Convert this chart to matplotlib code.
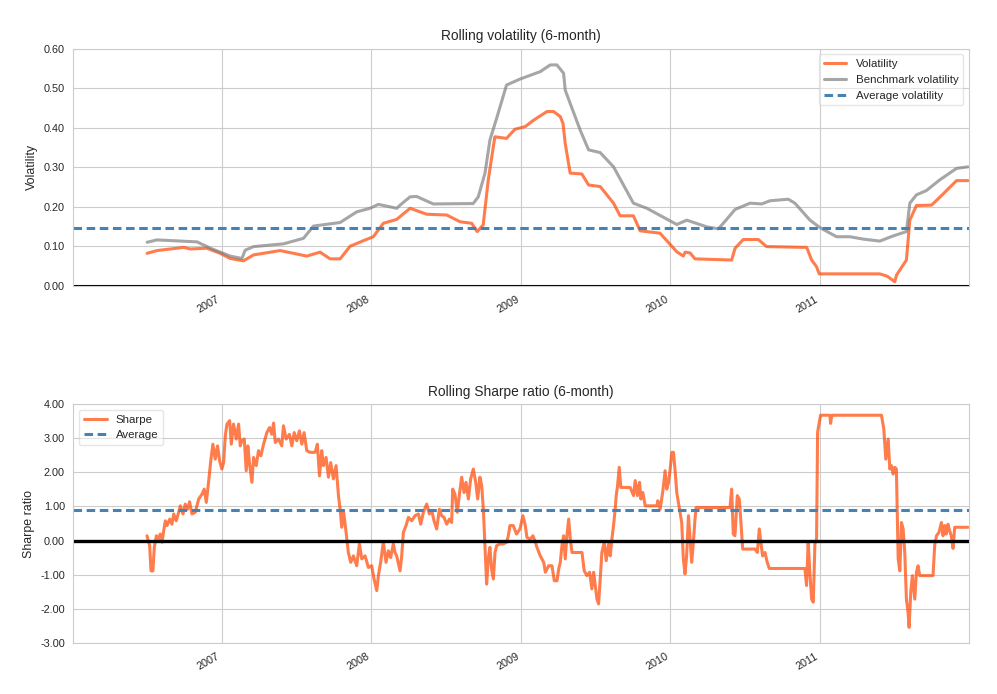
import matplotlib
matplotlib.use("Agg")
import matplotlib.pyplot as plt
import matplotlib.dates as mdates
from matplotlib.ticker import FormatStrFormatter, MultipleLocator
import seaborn as sns
import pandas as pd

vol_years = [2006.502, 2006.568, 2006.746, 2006.791, 2006.902, 2006.991, 2007.058, 2007.147,
             2007.214, 2007.392, 2007.570, 2007.659, 2007.726, 2007.793, 2007.860, 2007.949,
             2008.015, 2008.082, 2008.172, 2008.261, 2008.372, 2008.506, 2008.595, 2008.673,
             2008.710, 2008.750, 2008.784, 2008.828, 2008.906, 2008.962, 2009.029, 2009.084,
             2009.174, 2009.218, 2009.263, 2009.281, 2009.296, 2009.329, 2009.407, 2009.452,
             2009.530, 2009.619, 2009.663, 2009.752, 2009.797, 2009.930, 2010.042, 2010.086,
             2010.098, 2010.131, 2010.164, 2010.409, 2010.432, 2010.487, 2010.587, 2010.643,
             2010.911, 2010.944, 2010.977, 2010.995, 2011.400, 2011.450, 2011.500, 2011.512,
             2011.578, 2011.601, 2011.645, 2011.746, 2011.823, 2011.913, 2011.990]
vol_values = [0.082, 0.089, 0.097, 0.093, 0.095, 0.082, 0.069, 0.063,
              0.078, 0.089, 0.075, 0.085, 0.068, 0.068, 0.100, 0.114,
              0.124, 0.158, 0.168, 0.196, 0.181, 0.179, 0.162, 0.158,
              0.137, 0.154, 0.268, 0.377, 0.373, 0.396, 0.403, 0.419,
              0.441, 0.441, 0.428, 0.411, 0.360, 0.285, 0.283, 0.255,
              0.251, 0.209, 0.177, 0.177, 0.139, 0.133, 0.086, 0.075,
              0.085, 0.083, 0.068, 0.065, 0.095, 0.117, 0.117, 0.099,
              0.097, 0.065, 0.048, 0.030, 0.030, 0.024, 0.010, 0.027,
              0.065, 0.166, 0.203, 0.204, 0.232, 0.266, 0.266]

bench_years = [2006.502, 2006.568, 2006.836, 2006.925, 2007.058, 2007.136, 2007.158, 2007.214,
               2007.414, 2007.548, 2007.615, 2007.793, 2007.904, 2007.993, 2008.049, 2008.172,
               2008.194, 2008.261, 2008.305, 2008.416, 2008.683, 2008.717, 2008.762, 2008.795,
               2008.840, 2008.906, 2008.995, 2009.129, 2009.196, 2009.240, 2009.285, 2009.296,
               2009.396, 2009.452, 2009.530, 2009.619, 2009.752, 2009.842, 2010.042, 2010.109,
               2010.243, 2010.320, 2010.353, 2010.432, 2010.532, 2010.610, 2010.665, 2010.788,
               2010.832, 2010.933, 2011.000, 2011.111, 2011.200, 2011.289, 2011.400, 2011.489,
               2011.578, 2011.601, 2011.645, 2011.712, 2011.801, 2011.913, 2011.990]
bench_values = [0.110, 0.116, 0.111, 0.095, 0.075, 0.069, 0.090, 0.099,
                0.106, 0.120, 0.151, 0.160, 0.187, 0.196, 0.206, 0.196,
                0.204, 0.225, 0.226, 0.207, 0.208, 0.225, 0.285, 0.369,
                0.424, 0.508, 0.523, 0.542, 0.559, 0.559, 0.538, 0.495,
                0.394, 0.344, 0.337, 0.301, 0.209, 0.196, 0.155, 0.166,
                0.149, 0.144, 0.158, 0.193, 0.209, 0.207, 0.215, 0.219,
                0.209, 0.166, 0.147, 0.124, 0.124, 0.118, 0.113, 0.126,
                0.137, 0.209, 0.230, 0.241, 0.268, 0.297, 0.301]

avg_vol = 0.145

sharpe_years = [2006.501, 2006.519, 2006.528, 2006.541, 2006.550, 2006.564, 2006.579, 2006.590,
                2006.602, 2006.613, 2006.624, 2006.635, 2006.653, 2006.668, 2006.680, 2006.697,
                2006.713, 2006.724, 2006.742, 2006.757, 2006.773, 2006.786, 2006.802, 2006.824,
                2006.847, 2006.869, 2006.884, 2006.898, 2006.913, 2006.929, 2006.942, 2006.958,
                2006.973, 2006.987, 2007.002, 2007.014, 2007.025, 2007.036, 2007.054, 2007.065,
                2007.080, 2007.098, 2007.114, 2007.125, 2007.136, 2007.152, 2007.165, 2007.176,
                2007.187, 2007.203, 2007.214, 2007.232, 2007.247, 2007.263, 2007.281, 2007.303,
                2007.321, 2007.336, 2007.348, 2007.359, 2007.381, 2007.403, 2007.414, 2007.432,
                2007.454, 2007.470, 2007.486, 2007.503, 2007.521, 2007.537, 2007.552, 2007.570,
                2007.592, 2007.626, 2007.641, 2007.655, 2007.670, 2007.681, 2007.699, 2007.715,
                2007.730, 2007.748, 2007.766, 2007.782, 2007.793, 2007.804, 2007.815, 2007.833,
                2007.848, 2007.864, 2007.882, 2007.904, 2007.922, 2007.938, 2007.960, 2007.982,
                2008.004, 2008.020, 2008.038, 2008.049, 2008.064, 2008.082, 2008.100, 2008.116,
                2008.131, 2008.149, 2008.160, 2008.171, 2008.194, 2008.205, 2008.216, 2008.234,
                2008.250, 2008.272, 2008.294, 2008.317, 2008.332, 2008.350, 2008.372, 2008.390,
                2008.406, 2008.421, 2008.439, 2008.457, 2008.472, 2008.488, 2008.506, 2008.524,
                2008.539, 2008.546, 2008.561, 2008.577, 2008.590, 2008.606, 2008.622, 2008.635,
                2008.651, 2008.666, 2008.684, 2008.700, 2008.713, 2008.728, 2008.740, 2008.751,
                2008.762, 2008.773, 2008.784, 2008.795, 2008.806, 2008.818, 2008.829, 2008.840,
                2008.862, 2008.884, 2008.907, 2008.918, 2008.929, 2008.951, 2008.973, 2008.996,
                2009.013, 2009.029, 2009.040, 2009.062, 2009.080, 2009.096, 2009.107, 2009.129,
                2009.152, 2009.163, 2009.185, 2009.207, 2009.223, 2009.241, 2009.252, 2009.263,
                2009.274, 2009.285, 2009.296, 2009.307, 2009.319, 2009.330, 2009.341, 2009.408,
                2009.423, 2009.441, 2009.459, 2009.474, 2009.486, 2009.497, 2009.508, 2009.519,
                2009.530, 2009.541, 2009.557, 2009.570, 2009.586, 2009.597, 2009.608, 2009.619,
                2009.630, 2009.637, 2009.646, 2009.657, 2009.668, 2009.730, 2009.753, 2009.764,
                2009.779, 2009.793, 2009.802, 2009.815, 2009.831, 2009.909, 2009.915, 2009.931,
                2009.949, 2009.964, 2009.975, 2009.987, 2009.998, 2010.009, 2010.020, 2010.031,
                2010.042, 2010.060, 2010.075, 2010.086, 2010.097, 2010.108, 2010.120, 2010.131,
                2010.142, 2010.153, 2010.164, 2010.171, 2010.398, 2010.409, 2010.420, 2010.431,
                2010.447, 2010.460, 2010.469, 2010.483, 2010.565, 2010.581, 2010.594, 2010.603,
                2010.616, 2010.632, 2010.647, 2010.661, 2010.899, 2010.910, 2010.921, 2010.932,
                2010.944, 2010.955, 2010.966, 2010.977, 2010.984, 2010.995, 2011.004, 2011.066,
                2011.071, 2011.079, 2011.411, 2011.427, 2011.440, 2011.456, 2011.467, 2011.478,
                2011.489, 2011.500, 2011.511, 2011.523, 2011.534, 2011.545, 2011.556, 2011.567,
                2011.578, 2011.589, 2011.596, 2011.607, 2011.618, 2011.634, 2011.645, 2011.656,
                2011.667, 2011.756, 2011.767, 2011.779, 2011.796, 2011.812, 2011.823, 2011.834,
                2011.845, 2011.856, 2011.867, 2011.878, 2011.890, 2011.901, 2011.990]
sharpe_values = [0.14, -0.15, -0.89, -0.89, -0.20, 0.14, 0.04, 0.19,
                 -0.05, 0.29, 0.58, 0.44, 0.63, 0.48, 0.78, 0.58,
                 0.83, 1.02, 0.78, 1.07, 0.92, 1.14, 0.78, 0.83,
                 1.22, 1.36, 1.51, 1.12, 1.71, 2.39, 2.83, 2.39,
                 2.78, 2.34, 2.10, 2.29, 3.08, 3.42, 3.52, 2.83,
                 3.42, 2.98, 3.42, 2.78, 2.93, 2.98, 2.05, 2.78,
                 2.25, 1.71, 2.44, 2.20, 2.64, 2.49, 2.83, 3.17,
                 3.32, 3.12, 3.45, 2.88, 2.98, 2.78, 3.37, 2.98,
                 3.12, 2.78, 3.17, 2.93, 3.22, 2.83, 3.17, 2.64,
                 2.59, 2.59, 2.83, 1.90, 2.64, 2.20, 2.44, 1.86,
                 2.29, 1.81, 2.20, 1.32, 0.92, 0.39, 0.88, 0.24,
                 -0.35, -0.64, -0.45, -0.74, -0.10, -0.54, -0.45, -0.79,
                 -0.74, -1.13, -1.47, -1.03, -0.64, -0.05, -0.64, -0.30,
                 -0.50, -0.10, -0.35, -0.45, -0.89, -0.45, 0.24, 0.44,
                 0.68, 0.58, 0.73, 0.78, 0.48, 0.83, 1.07, 0.78,
                 0.88, 0.58, 0.34, 0.92, 0.73, 0.68, 0.48, 0.63,
                 0.53, 1.51, 1.36, 0.83, 1.32, 1.86, 1.41, 1.71,
                 1.22, 1.81, 2.10, 1.71, 1.22, 1.86, 1.61, 0.92,
                 -0.15, -1.28, -0.54, -0.20, -0.84, -1.13, -0.35, -0.15,
                 -0.10, -0.10, -0.05, 0.14, 0.44, 0.44, 0.19, 0.34,
                 0.73, 0.44, 0.09, 0.04, 0.14, -0.05, -0.20, -0.45,
                 -0.64, -0.93, -0.74, -0.74, -1.18, -1.18, -0.84, -0.64,
                 -0.15, 0.14, -0.54, 0.14, 0.63, 0.04, -0.35, -0.35,
                 -0.89, -1.03, -0.93, -1.42, -0.93, -1.32, -1.72, -1.86,
                 -1.13, -0.35, -0.05, -0.59, -0.10, -0.45, 0.04, 0.44,
                 0.92, 1.32, 1.61, 2.15, 1.56, 1.56, 1.32, 1.76,
                 1.32, 1.71, 1.22, 1.41, 1.02, 1.02, 1.17, 0.92,
                 1.46, 2.05, 1.51, 1.71, 2.10, 2.59, 2.59, 2.05,
                 1.41, 0.92, 0.53, -0.54, -0.98, -0.45, 0.73, 0.04,
                 -0.64, -0.05, 0.63, 0.97, 0.97, 1.51, 0.19, 0.14,
                 1.32, 1.22, 0.68, -0.25, -0.25, -0.35, 0.34, 0.00,
                 -0.45, -0.35, -0.64, -0.82, -0.82, -1.32, -0.05, -0.93,
                 -1.72, -1.81, -0.10, 0.04, 3.18, 3.47, 3.68, 3.68,
                 3.44, 3.68, 3.68, 3.27, 2.39, 2.98, 2.10, 2.20,
                 1.95, 2.15, 2.10, -0.54, -0.89, 0.53, 0.34, -0.35,
                 -1.72, -2.11, -2.55, -1.52, -1.03, -1.72, -0.93, -0.74,
                 -1.03, -1.03, -0.15, 0.14, 0.24, 0.53, 0.14, 0.44,
                 0.19, 0.48, 0.29, 0.14, -0.23, 0.39, 0.39]

avg_sharpe = 0.89

x_start = "2006-01-04"
x_end = "2011-12-30"


def to_dates(years):
    out = []
    for y in years:
        yr = int(y)
        out.append(pd.Timestamp(yr, 1, 1) + pd.Timedelta(days=(y - yr) * 365.0))
    return out


sns.set_style("whitegrid")
plt.rcParams['font.family'] = ['Liberation Sans', 'DejaVu Sans']
plt.rcParams['text.color'] = '#262626'
plt.rcParams['axes.labelcolor'] = '#262626'
plt.rcParams['xtick.color'] = '#262626'
plt.rcParams['ytick.color'] = '#262626'

fig = plt.figure(figsize=(9.97, 6.94), dpi=100)
ax1 = fig.add_axes([0.0735, 0.5883, 0.8981, 0.3415])
ax2 = fig.add_axes([0.0735, 0.0739, 0.8981, 0.3435])

lw = 2.2
dash = (0, (2.8, 1.5))

# volatility
ax1.plot(to_dates(vol_years), vol_values, color='orangered', alpha=.7, lw=lw, label='Volatility')
ax1.plot(to_dates(bench_years), bench_values, color='grey', alpha=.7, lw=lw, label='Benchmark volatility')
ax1.axhline(avg_vol, color='steelblue', linestyle=dash, lw=lw, label='Average volatility')
ax1.axhline(0.0, color='black', linestyle='-', lw=1.5)
ax1.set_ylim(0, 0.6)
ax1.set_ylabel('Volatility', fontsize=8.9)
ax1.set_title('Rolling volatility (6-month)', fontsize=9.9)
ax1.legend(loc='upper right', frameon=True, framealpha=0.5, fontsize=8.25)

# sharpe
ax2.plot(to_dates(sharpe_years), sharpe_values, color='orangered', alpha=.7, lw=lw, label='Sharpe')
ax2.axhline(avg_sharpe, color='steelblue', linestyle=dash, lw=lw, label='Average')
ax2.axhline(0.0, color='black', linestyle='-', lw=2.4)
ax2.set_ylim(-3, 4)
ax2.set_ylabel('Sharpe ratio', fontsize=8.9)
ax2.set_title('Rolling Sharpe ratio (6-month)', fontsize=9.9)
ax2.legend(loc='upper left', frameon=True, framealpha=0.5, fontsize=8.25)

for ax, step in ((ax1, 0.1), (ax2, 1.0)):
    ax.set_xlim(pd.Timestamp(x_start), pd.Timestamp(x_end))
    ax.xaxis.set_major_locator(mdates.YearLocator())
    ax.xaxis.set_major_formatter(mdates.DateFormatter('%Y'))
    ax.yaxis.set_major_locator(MultipleLocator(step))
    ax.yaxis.set_major_formatter(FormatStrFormatter('%.2f'))
    ax.tick_params(axis='both', labelsize=7.8, length=0, pad=6)
    for lab in ax.get_xticklabels():
        lab.set_rotation(30)
        lab.set_ha('right')

fig.savefig('out.png', dpi=100)
